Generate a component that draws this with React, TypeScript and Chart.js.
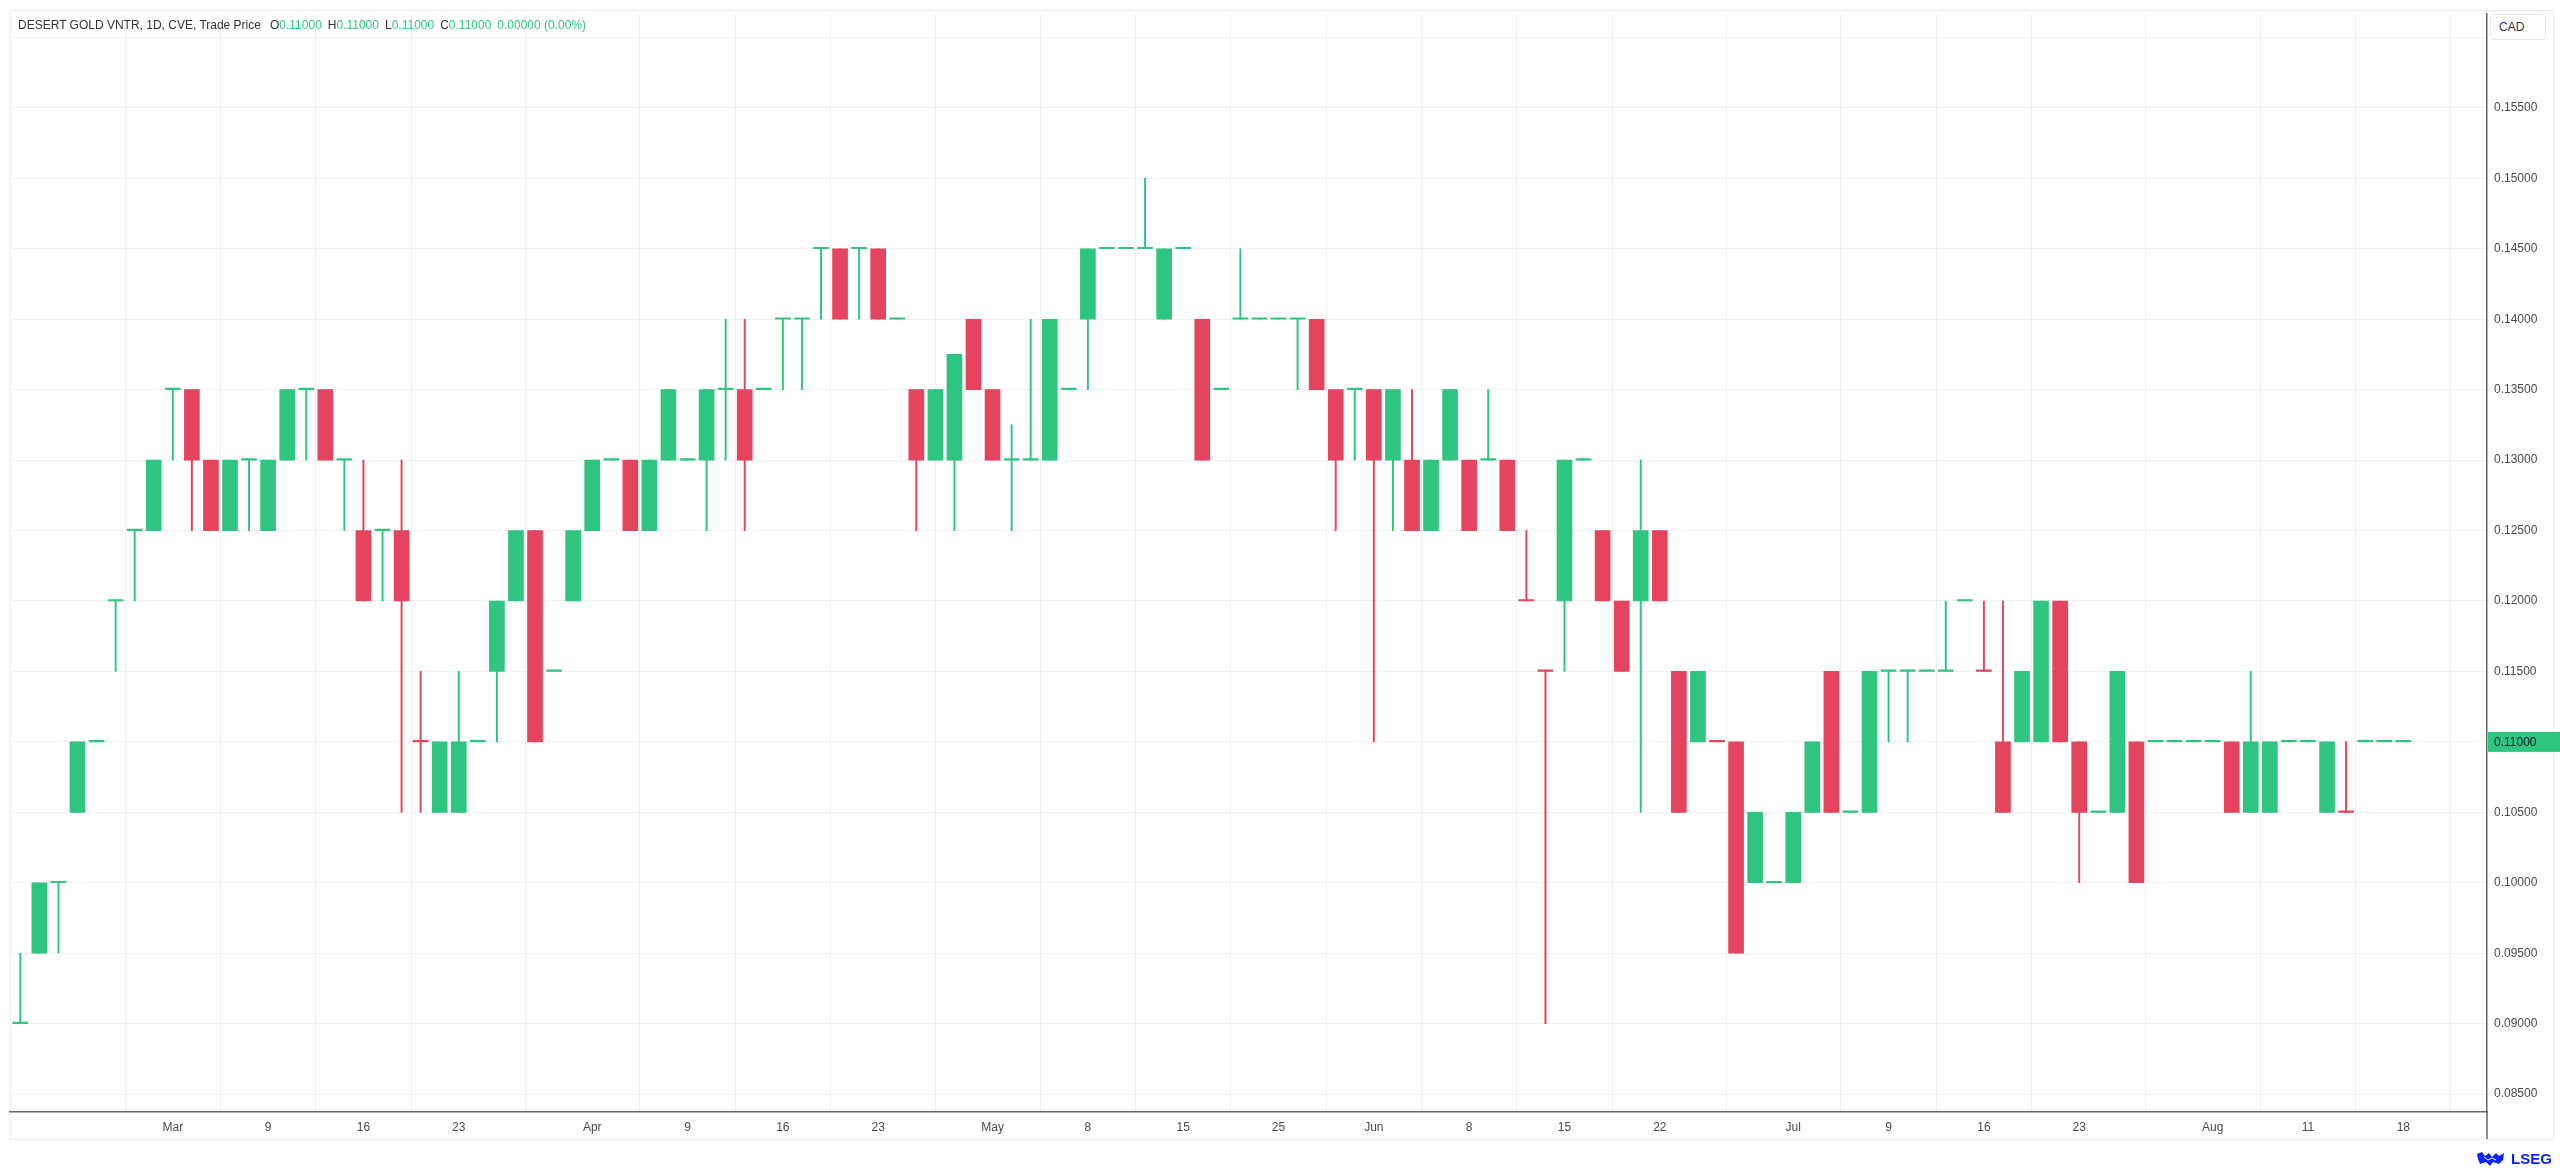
import React, { useEffect, useRef } from 'react';
import { Chart, registerables } from 'chart.js';

Chart.register(...registerables);

// trading days, Feb 18 - Aug 18
const dates = [
  '02-18', '02-19', '02-20', '02-23', '02-24', '02-25', '02-26', '02-27',
  '03-02', '03-03', '03-04', '03-05', '03-06', '03-09', '03-10', '03-11', '03-12', '03-13',
  '03-16', '03-17', '03-18', '03-19', '03-20', '03-23', '03-24', '03-25', '03-26', '03-27',
  '03-30', '03-31', '04-01', '04-02', '04-06', '04-07', '04-08', '04-09', '04-10',
  '04-13', '04-14', '04-15', '04-16', '04-17', '04-20', '04-21', '04-22', '04-23', '04-24',
  '04-27', '04-28', '04-29', '04-30', '05-01', '05-04', '05-05', '05-06', '05-07', '05-08',
  '05-11', '05-12', '05-13', '05-14', '05-15', '05-19', '05-20', '05-21', '05-22',
  '05-25', '05-26', '05-27', '05-28', '05-29', '06-01', '06-02', '06-03', '06-04', '06-05',
  '06-08', '06-09', '06-10', '06-11', '06-12', '06-15', '06-16', '06-17', '06-18', '06-19',
  '06-22', '06-23', '06-24', '06-25', '06-26', '06-29', '06-30', '07-02', '07-03',
  '07-06', '07-07', '07-08', '07-09', '07-10', '07-13', '07-14', '07-15', '07-16', '07-17',
  '07-20', '07-21', '07-22', '07-23', '07-24', '07-27', '07-28', '07-29', '07-30', '07-31',
  '08-04', '08-05', '08-06', '08-07', '08-10', '08-11', '08-12', '08-13', '08-14',
  '08-17', '08-18',
];

const opens = [
  0.09, 0.095, 0.1, 0.105, 0.11, 0.12, 0.125, 0.125, 0.135, 0.135,
  0.13, 0.125, 0.13, 0.125, 0.13, 0.135, 0.135, 0.13, 0.125, 0.125,
  0.125, 0.11, 0.105, 0.105, 0.11, 0.115, 0.12, 0.125, 0.115, 0.12,
  0.125, 0.13, 0.13, 0.125, 0.13, 0.13, 0.13, 0.135, 0.135, 0.135,
  0.14, 0.14, 0.145, 0.145, 0.145, 0.145, 0.14, 0.135, 0.13, 0.13,
  0.14, 0.135, 0.13, 0.13, 0.13, 0.135, 0.14, 0.145, 0.145, 0.145,
  0.14, 0.145, 0.14, 0.135, 0.14, 0.14, 0.14, 0.14, 0.14, 0.135,
  0.135, 0.135, 0.13, 0.13, 0.125, 0.13, 0.13, 0.13, 0.13, 0.12,
  0.115, 0.12, 0.13, 0.125, 0.12, 0.12, 0.125, 0.115, 0.11, 0.11,
  0.11, 0.1, 0.1, 0.1, 0.105, 0.115, 0.105, 0.105, 0.115, 0.115,
  0.115, 0.115, 0.12, 0.115, 0.11, 0.11, 0.11, 0.12, 0.11, 0.105,
  0.105, 0.11, 0.11, 0.11, 0.11, 0.11, 0.11, 0.105, 0.105, 0.11,
  0.11, 0.105, 0.105, 0.11, 0.11, 0.11,
];
const highs = [
  0.095, 0.1, 0.1, 0.11, 0.11, 0.12, 0.125, 0.13, 0.135, 0.135,
  0.13, 0.13, 0.13, 0.13, 0.135, 0.135, 0.135, 0.13, 0.13, 0.125,
  0.13, 0.115, 0.11, 0.115, 0.11, 0.12, 0.125, 0.125, 0.115, 0.125,
  0.13, 0.13, 0.13, 0.13, 0.135, 0.13, 0.135, 0.14, 0.14, 0.135,
  0.14, 0.14, 0.145, 0.145, 0.145, 0.145, 0.14, 0.135, 0.135, 0.1375,
  0.14, 0.135, 0.1325, 0.14, 0.14, 0.135, 0.145, 0.145, 0.145, 0.15,
  0.145, 0.145, 0.14, 0.135, 0.145, 0.14, 0.14, 0.14, 0.14, 0.135,
  0.135, 0.135, 0.135, 0.135, 0.13, 0.135, 0.13, 0.135, 0.13, 0.125,
  0.115, 0.13, 0.13, 0.125, 0.12, 0.13, 0.125, 0.115, 0.115, 0.11,
  0.11, 0.105, 0.1, 0.105, 0.11, 0.115, 0.105, 0.115, 0.115, 0.115,
  0.115, 0.12, 0.12, 0.12, 0.12, 0.115, 0.12, 0.12, 0.11, 0.105,
  0.115, 0.11, 0.11, 0.11, 0.11, 0.11, 0.11, 0.115, 0.11, 0.11,
  0.11, 0.11, 0.11, 0.11, 0.11, 0.11,
];
const lows = [
  0.09, 0.095, 0.095, 0.105, 0.11, 0.115, 0.12, 0.125, 0.13, 0.125,
  0.125, 0.125, 0.125, 0.125, 0.13, 0.13, 0.13, 0.125, 0.12, 0.12,
  0.105, 0.105, 0.105, 0.105, 0.11, 0.11, 0.12, 0.11, 0.115, 0.12,
  0.125, 0.13, 0.125, 0.125, 0.13, 0.13, 0.125, 0.13, 0.125, 0.135,
  0.135, 0.135, 0.14, 0.14, 0.14, 0.14, 0.14, 0.125, 0.13, 0.125,
  0.135, 0.13, 0.125, 0.13, 0.13, 0.135, 0.135, 0.145, 0.145, 0.145,
  0.14, 0.145, 0.13, 0.135, 0.14, 0.14, 0.14, 0.135, 0.135, 0.125,
  0.13, 0.11, 0.125, 0.125, 0.125, 0.13, 0.125, 0.13, 0.125, 0.12,
  0.09, 0.115, 0.13, 0.12, 0.115, 0.105, 0.12, 0.105, 0.11, 0.11,
  0.095, 0.1, 0.1, 0.1, 0.105, 0.105, 0.105, 0.105, 0.11, 0.11,
  0.115, 0.115, 0.12, 0.115, 0.105, 0.11, 0.11, 0.11, 0.1, 0.105,
  0.105, 0.1, 0.11, 0.11, 0.11, 0.11, 0.105, 0.105, 0.105, 0.11,
  0.11, 0.105, 0.105, 0.11, 0.11, 0.11,
];
const closes = [
  0.09, 0.1, 0.1, 0.11, 0.11, 0.12, 0.125, 0.13, 0.135, 0.13,
  0.125, 0.13, 0.13, 0.13, 0.135, 0.135, 0.13, 0.13, 0.12, 0.125,
  0.12, 0.11, 0.11, 0.11, 0.11, 0.12, 0.125, 0.11, 0.115, 0.125,
  0.13, 0.13, 0.125, 0.13, 0.135, 0.13, 0.135, 0.135, 0.13, 0.135,
  0.14, 0.14, 0.145, 0.14, 0.145, 0.14, 0.14, 0.13, 0.135, 0.1375,
  0.135, 0.13, 0.13, 0.13, 0.14, 0.135, 0.145, 0.145, 0.145, 0.145,
  0.145, 0.145, 0.13, 0.135, 0.14, 0.14, 0.14, 0.14, 0.135, 0.13,
  0.135, 0.13, 0.135, 0.125, 0.13, 0.135, 0.125, 0.13, 0.125, 0.12,
  0.115, 0.13, 0.13, 0.12, 0.115, 0.125, 0.12, 0.105, 0.115, 0.11,
  0.095, 0.105, 0.1, 0.105, 0.11, 0.105, 0.105, 0.115, 0.115, 0.115,
  0.115, 0.115, 0.12, 0.115, 0.105, 0.115, 0.12, 0.11, 0.105, 0.105,
  0.115, 0.1, 0.11, 0.11, 0.11, 0.11, 0.105, 0.11, 0.11, 0.11,
  0.11, 0.11, 0.105, 0.11, 0.11, 0.11,
];

// flat days that print red
const downDoji = ['03-19', '06-11', '06-12', '06-25', '07-16', '08-13'];

const tickDates = [
  '03-02', '03-09', '03-16', '03-23', '04-01', '04-09', '04-16', '04-23',
  '05-01', '05-08', '05-15', '05-25', '06-01', '06-08', '06-15', '06-22',
  '07-02', '07-09', '07-16', '07-23', '08-04', '08-11', '08-18',
];
const tickLabels = [
  'Mar', '9', '16', '23', 'Apr', '9', '16', '23',
  'May', '8', '15', '25', 'Jun', '8', '15', '22',
  'Jul', '9', '16', '23', 'Aug', '11', '18',
];
const priceTicks = [
  0.085, 0.09, 0.095, 0.1, 0.105, 0.11, 0.115, 0.12, 0.125,
  0.13, 0.135, 0.14, 0.145, 0.15, 0.155, 0.16,
];

const GREEN = '#2dc580';
const RED = '#e5445f';
const FONT = '"Liberation Sans", Arial, sans-serif';

const isUp = (i: number) => {
  if (closes[i] > opens[i]) return true;
  if (closes[i] < opens[i]) return false;
  return !downDoji.includes(dates[i]);
};

const fmt = (v: number) => v.toFixed(5);

const framePlugin = {
  id: 'frame',
  beforeDraw(chart: any) {
    const { ctx, width } = chart;
    ctx.save();
    ctx.fillStyle = '#ffffff';
    ctx.fillRect(0, 0, width, chart.height);
    ctx.strokeStyle = '#ececec';
    ctx.lineWidth = 1;
    ctx.strokeRect(10.5, 10.5, 2543, 1129);
    ctx.restore();
  },
  afterDraw(chart: any) {
    const { ctx, chartArea } = chart;
    const y = chart.scales.y;
    ctx.save();
    // axis line continues through the date strip
    ctx.strokeStyle = '#666';
    ctx.lineWidth = 1.5;
    ctx.beginPath();
    ctx.moveTo(chartArea.right, chartArea.bottom);
    ctx.lineTo(chartArea.right, 1139);
    ctx.stroke();
    // last price tag
    const last = closes.length - 1;
    const py = y.getPixelForValue(closes[last]);
    ctx.fillStyle = isUp(last) ? GREEN : RED;
    ctx.fillRect(chartArea.right + 1, py - 10, 73, 20);
    ctx.fillStyle = '#131722';
    ctx.font = `12px ${FONT}`;
    ctx.textBaseline = 'middle';
    ctx.fillText(fmt(closes[last]), chartArea.right + 7, py + 0.5);
    ctx.restore();
  },
};

const CandleChart = () => {
  const chartRef = useRef<HTMLCanvasElement>(null);

  useEffect(() => {
    document.body.style.margin = '0';
    const ctx = chartRef.current!.getContext('2d')!;
    const colors = dates.map((_, i) => (isUp(i) ? GREEN : RED));

    const c = new Chart(ctx, {
      type: 'bar',
      data: {
        datasets: [
          {
            label: 'body',
            data: dates.map((_, i) => ({ x: i, y: [opens[i], closes[i]] })) as any,
            backgroundColor: colors,
            borderWidth: 0,
            barThickness: 15,
            minBarLength: 1.5,
            grouped: false,
          },
          {
            label: 'wick',
            data: dates.map((_, i) => ({ x: i, y: [lows[i], highs[i]] })) as any,
            backgroundColor: colors,
            borderWidth: 0,
            barThickness: 1.3,
            minBarLength: 1,
            grouped: false,
          },
        ],
      },
      options: {
        responsive: false,
        animation: false,
        devicePixelRatio: 1,
        events: [],
        layout: { padding: { left: 10, top: 10, right: 0, bottom: 0 } },
        plugins: {
          legend: { display: false },
          tooltip: { enabled: false },
        },
        scales: {
          x: {
            type: 'linear',
            min: -0.54,
            max: 129.39,
            offset: false,
            grid: { color: '#f0f0f0', drawTicks: false },
            border: { color: '#666', width: 1.5 },
            ticks: {
              padding: 8,
              autoSkip: false,
              maxRotation: 0,
              color: '#4a4a4a',
              font: { family: FONT, size: 12 },
              callback: (_v: any, idx: number) => tickLabels[idx],
            },
            afterBuildTicks: (s: any) => {
              s.ticks = tickDates.map((d) => ({ value: dates.indexOf(d) }));
            },
            afterFit: (s: any) => {
              s.height = 58;
            },
          },
          y: {
            type: 'linear',
            position: 'right',
            min: 0.08373,
            max: 0.16165,
            grid: { color: '#f0f0f0', drawTicks: false },
            border: { color: '#666', width: 1.5 },
            ticks: {
              padding: 7,
              color: '#4a4a4a',
              font: { family: FONT, size: 12 },
              callback: (v: any) => (Number(v) > 0.1575 ? '' : fmt(Number(v))),
            },
            afterBuildTicks: (s: any) => {
              s.ticks = priceTicks.map((v) => ({ value: v }));
            },
            afterFit: (s: any) => {
              s.width = 73;
            },
          },
        },
      },
      plugins: [framePlugin],
    });

    return () => {
      c.destroy();
    };
  }, []);

  const last = closes.length - 1;
  const change = closes[last] - closes[last - 1];
  const pct = (change / closes[last - 1]) * 100;
  const val = { color: GREEN };

  return (
    <div style={{ position: 'relative', width: 2560, height: 1170, background: '#fff', fontFamily: FONT }}>
      <canvas ref={chartRef} width={2560} height={1170} style={{ display: 'block' }} />
      <div
        style={{
          position: 'absolute',
          left: 18,
          top: 18,
          fontSize: 12,
          lineHeight: '14px',
          color: '#333',
          whiteSpace: 'nowrap',
        }}
      >
        <span>DESERT GOLD VNTR, 1D, CVE, Trade Price</span>
        <span style={{ marginLeft: 9 }}>O</span>
        <span style={val}>{fmt(opens[last])}</span>
        <span style={{ marginLeft: 6 }}>H</span>
        <span style={val}>{fmt(highs[last])}</span>
        <span style={{ marginLeft: 6 }}>L</span>
        <span style={val}>{fmt(lows[last])}</span>
        <span style={{ marginLeft: 6 }}>C</span>
        <span style={val}>{fmt(closes[last])}</span>
        <span style={{ marginLeft: 6, ...val }}>
          {fmt(change)} ({pct.toFixed(2)}%)
        </span>
      </div>
      <div
        style={{
          position: 'absolute',
          left: 2490,
          top: 14,
          width: 56,
          height: 26,
          boxSizing: 'border-box',
          border: '1px solid #e6e6e6',
          borderRadius: 4,
          background: '#fff',
          fontSize: 12,
          lineHeight: '24px',
          paddingLeft: 8,
          color: '#333',
        }}
      >
        CAD
      </div>
      <div
        style={{
          position: 'absolute',
          left: 2476,
          top: 1150,
          display: 'flex',
          alignItems: 'center',
          gap: 5,
          color: '#0a22ff',
          fontWeight: 700,
          fontSize: 15,
          lineHeight: '18px',
        }}
      >
        <svg width="30" height="16" viewBox="0 0 30 16">
          <path d="M1 3 L6 1 L9 5 L13 2 L16 6 L20 2 L23 5 L28 2 L27 9 L23 13 L17 11 L14 15 L10 11 L4 13 L2 8 Z" fill="#0a22ff" />
          <path d="M8 6 L12 9 L16 7 L20 9" stroke="#fff" strokeWidth="1" fill="none" />
        </svg>
        <span>LSEG</span>
      </div>
    </div>
  );
};

export default function App() {
  return <CandleChart />;
}
